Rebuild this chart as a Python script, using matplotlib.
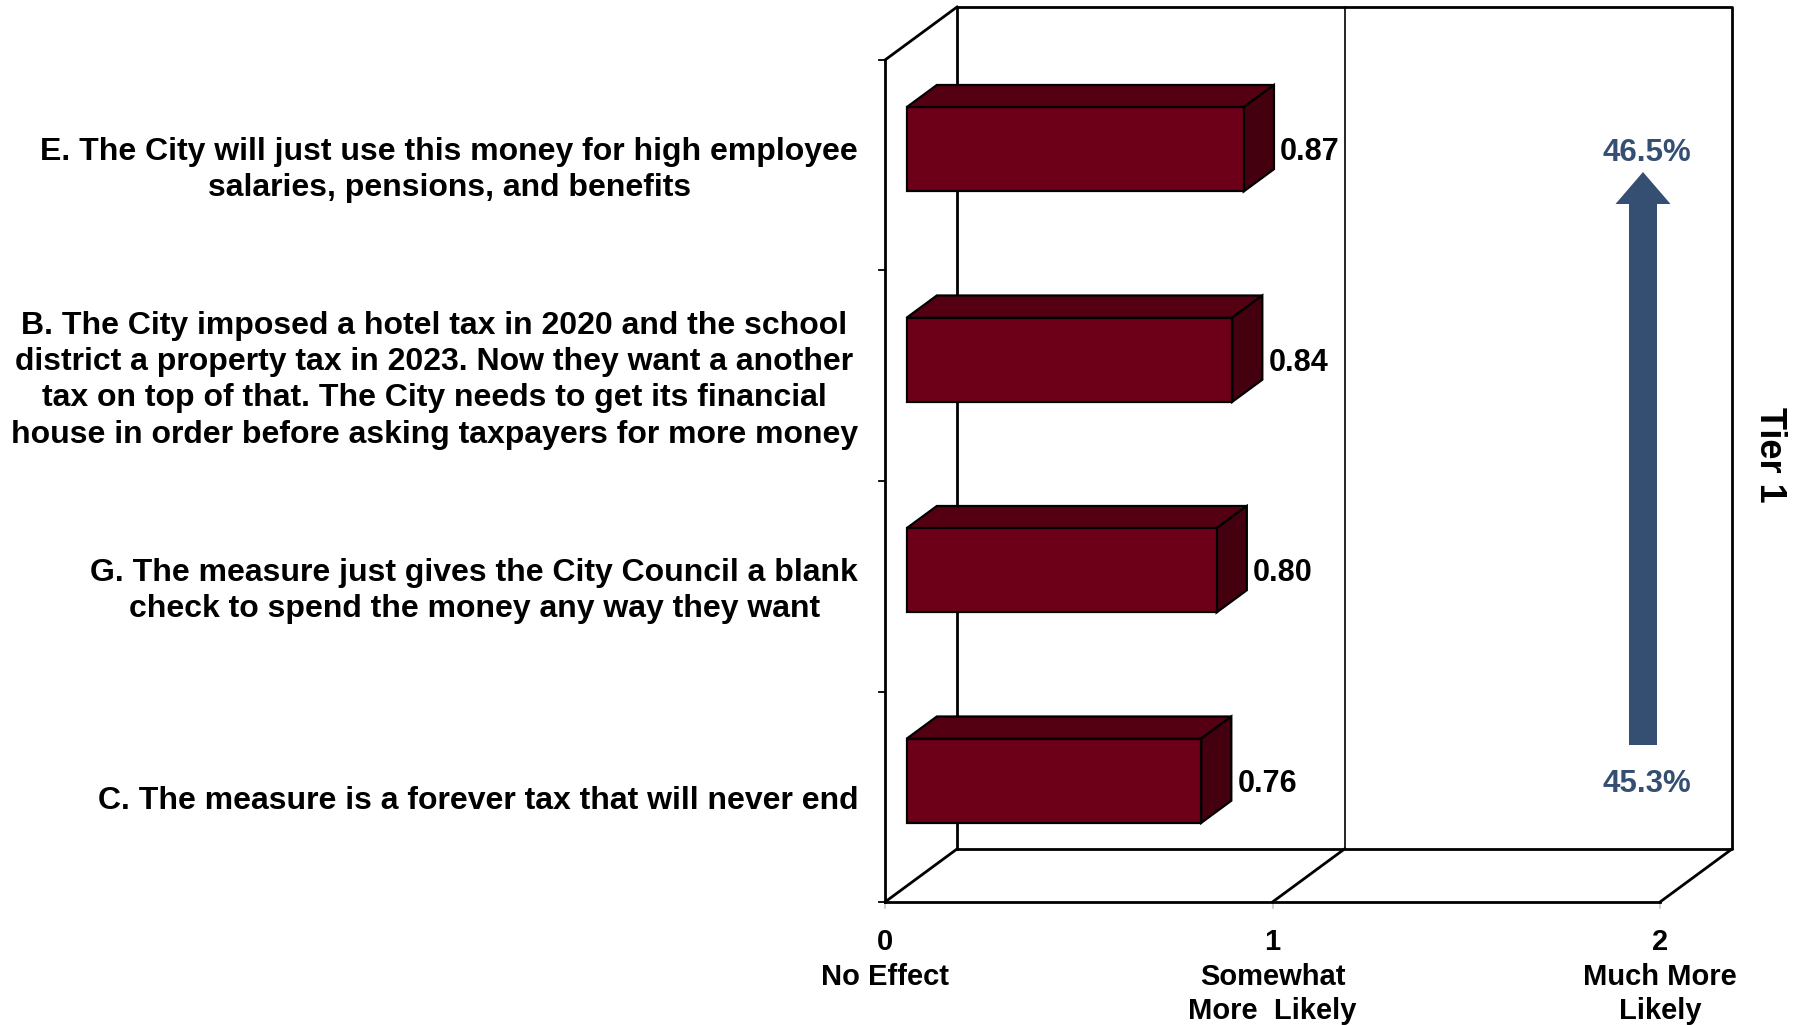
import matplotlib
matplotlib.use("Agg")
import matplotlib.pyplot as plt
from matplotlib.patches import Polygon, FancyArrow

plt.rcParams['font.family'] = ['Liberation Sans', 'DejaVu Sans']
plt.rcParams['font.weight'] = 'bold'

# statements, top to bottom, with their mean scores
statements = [
    "E. The City will just use this money for high employee\nsalaries, pensions, and benefits",
    "B. The City imposed a hotel tax in 2020 and the school\ndistrict a property tax in 2023. Now they want a another\ntax on top of that. The City needs to get its financial\nhouse in order before asking taxpayers for more money",
    "G. The measure just gives the City Council a blank\ncheck to spend the money any way they want",
    "C. The measure is a forever tax that will never end",
]
scores = [0.87, 0.84, 0.80, 0.76]

tick_values = [0, 1, 2]
tick_labels = ["0\nNo Effect", "1\nSomewhat\nMore  Likely", "2\nMuch More\nLikely"]

tier_label = "Tier 1"
tier_top = "46.5%"
tier_bottom = "45.3%"

# colours
FRONT = "#6d0018"
TOP = "#540012"
SIDE = "#44000f"
BLUE = "#354f73"

# pixel scale of one x unit / one category, and the oblique depth offset
XPX, YPX = 387.5, 210.5
DX, DY = 72 / XPX, 53 / YPX
W, H = 1798, 1025
X0, Y0 = 885, 902


def proj(x, y, d):
    return (x + d * DX, y + d * DY)


fig = plt.figure(figsize=(W / 100, H / 100), dpi=100)
ax = fig.add_axes([0, 0, 1, 1])
ax.set_xlim(-X0 / XPX, (W - X0) / XPX)
ax.set_ylim((Y0 - H) / YPX, Y0 / YPX)
ax.axis('off')

n = len(scores)
xmax = max(tick_values)
lw = 2.0
line_kw = dict(color='black', lw=lw, solid_capstyle='projecting', zorder=2)

# back wall
bx, by = zip(proj(0, 0, 1), proj(0, n, 1), proj(xmax, n, 1), proj(xmax, 0, 1), proj(0, 0, 1))
ax.plot(bx, by, **line_kw)
for v in tick_values[1:-1]:
    gx, gy = zip(proj(v, 0, 1), proj(v, n, 1))
    ax.plot(gx, gy, color='black', lw=1.2, zorder=2)

# floor
ax.plot([0, xmax], [0, 0], **line_kw)
for v in tick_values:
    fx, fy = zip(proj(v, 0, 0), proj(v, 0, 1))
    ax.plot(fx, fy, **line_kw)
    ax.plot([v, v], [0, -6 / YPX], color='#c8c8c8', lw=1.2, zorder=1)

# front left axis with ticks and top corner
ax.plot([0, 0], [0, n], **line_kw)
tx, ty = zip(proj(0, n, 0), proj(0, n, 1))
ax.plot(tx, ty, **line_kw)
for k in range(n + 1):
    ax.plot([-6 / XPX, 0], [k, k], color='black', lw=1.3, zorder=2)

# 3-D bars
d0, d1, half = 0.3, 0.72, 0.2
for i, (txt, v) in enumerate(zip(statements, scores)):
    yc = n - 0.5 - i
    lo, hi = yc - half, yc + half
    front = [proj(0, lo, d0), proj(v, lo, d0), proj(v, hi, d0), proj(0, hi, d0)]
    top = [proj(0, hi, d0), proj(v, hi, d0), proj(v, hi, d1), proj(0, hi, d1)]
    side = [proj(v, lo, d0), proj(v, lo, d1), proj(v, hi, d1), proj(v, hi, d0)]
    for pts, col in [(top, TOP), (side, SIDE), (front, FRONT)]:
        ax.add_patch(Polygon(pts, closed=True, facecolor=col, edgecolor='black',
                             lw=1.6, joinstyle='miter', zorder=4))
    lx, ly = proj(v, yc, d1)
    ax.text(lx + 6 / XPX, yc + d0 * DY - 3 / YPX, f"{v:.2f}", ha='left', va='center',
            fontsize=22, fontweight='bold', zorder=5)
    ax.text(-27 / XPX, yc - 4.5 / YPX, txt, ha='right', va='center', multialignment='center',
            fontsize=23, fontweight='bold', linespacing=1.27)

# x tick labels
for v, lab in zip(tick_values, tick_labels):
    ax.text(v, -26 / YPX, lab, ha='center', va='top', fontsize=21,
            fontweight='bold', linespacing=1.3)

# tier arrow
ax_x = (1643 - X0) / XPX
y_start = (Y0 - 745) / YPX
y_tip = (Y0 - 172) / YPX
ax.add_patch(FancyArrow(ax_x, y_start, 0, y_tip - y_start, width=28 / XPX,
                        head_width=55 / XPX, head_length=32 / YPX,
                        length_includes_head=True, color=BLUE, lw=0, zorder=3))
ax.text(ax_x + 4 / XPX, (Y0 - 153) / YPX, tier_top, ha='center', va='center',
        fontsize=22.5, fontweight='bold', color=BLUE)
ax.text(ax_x + 4 / XPX, (Y0 - 784) / YPX, tier_bottom, ha='center', va='center',
        fontsize=22.5, fontweight='bold', color=BLUE)
ax.text((1769 - X0) / XPX, (Y0 - 455) / YPX, tier_label, ha='center', va='center',
        rotation=-90, fontsize=26, fontweight='bold')

fig.savefig("out.png", dpi=100, facecolor='white')
